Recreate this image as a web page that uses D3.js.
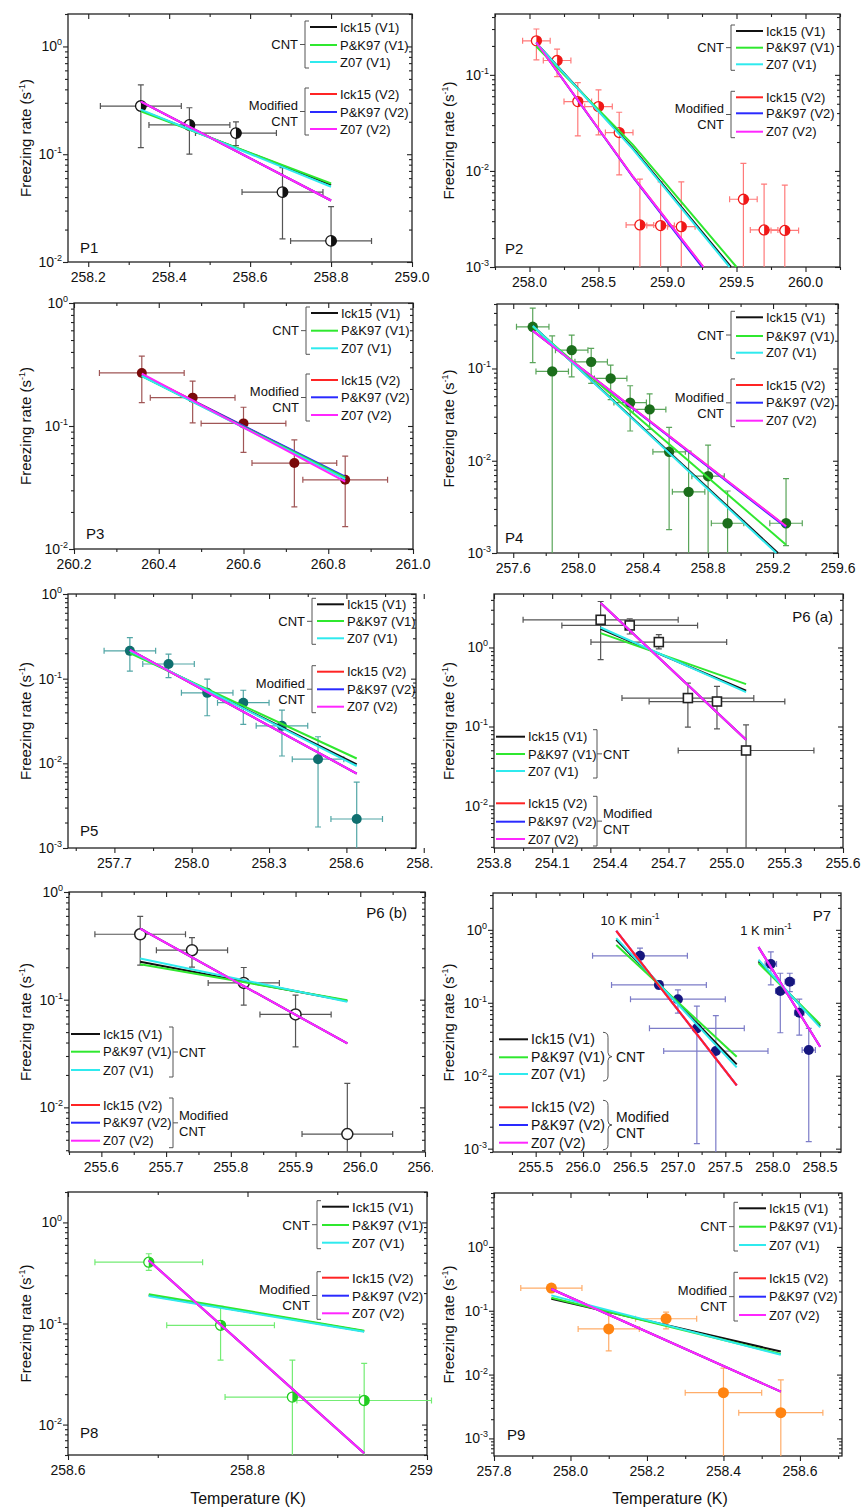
<!DOCTYPE html>
<html>
<head>
<meta charset="utf-8">
<script src="https://d3js.org/d3.v7.min.js"></script>
<style>
  body { margin: 0; background: #fff; }
  svg text { font-family: "Liberation Sans", Arial, sans-serif; fill: #111; }
</style>
</head>
<body>
<svg id="fig" width="866" height="1511"></svg>
<script>
// ---- data: t = temperature (K), k = freezing rate (s-1)
// dt = temperature error, lo/hi = rate error bar ends (lo null = runs off the axis)

var p1XTicks = [258.2, 258.4, 258.6, 258.8, 259.0];
var p1YTicks = [0.01, 0.1, 1];
var p1Points = [
  {t: 258.33, k: 0.28, dt: 0.1, lo: 0.115, hi: 0.44},
  {t: 258.45, k: 0.187, dt: 0.1, lo: 0.1, hi: 0.27},
  {t: 258.565, k: 0.157, dt: 0.1, lo: 0.12, hi: 0.2},
  {t: 258.68, k: 0.0445, dt: 0.1, lo: 0.0164, hi: 0.075},
  {t: 258.80, k: 0.0157, dt: 0.1, lo: null, hi: 0.0327}
];
var p1Fits = {
  ick1: [[258.33, 0.255], [258.80, 0.052]],
  pk1: [[258.33, 0.25], [258.80, 0.0535]],
  z1: [[258.33, 0.259], [258.80, 0.0499]],
  ick2: [[258.33, 0.308], [258.80, 0.0372]],
  pk2: [[258.33, 0.308], [258.80, 0.0372]],
  z2: [[258.33, 0.308], [258.80, 0.0372]]
};

var p2XTicks = [258.0, 258.5, 259.0, 259.5, 260.0];
var p2YTicks = [0.001, 0.01, 0.1];
var p2Points = [
  {t: 258.05, k: 0.226, dt: 0.1, lo: 0.143, hi: 0.30},
  {t: 258.20, k: 0.141, dt: 0.1, lo: 0.096, hi: 0.185},
  {t: 258.35, k: 0.0527, dt: 0.1, lo: 0.0232, hi: 0.083},
  {t: 258.50, k: 0.0468, dt: 0.1, lo: 0.0237, hi: 0.0698},
  {t: 258.65, k: 0.0251, dt: 0.1, lo: 0.0091, hi: 0.0408},
  {t: 258.80, k: 0.00274, dt: 0.1, lo: null, hi: 0.0082},
  {t: 258.95, k: 0.0027, dt: 0.1, lo: null, hi: 0.0077},
  {t: 259.10, k: 0.00263, dt: 0.1, lo: null, hi: 0.0077},
  {t: 259.55, k: 0.00507, dt: 0.1, lo: null, hi: 0.012},
  {t: 259.70, k: 0.00243, dt: 0.1, lo: null, hi: 0.0073},
  {t: 259.85, k: 0.0024, dt: 0.1, lo: null, hi: 0.0071}
];
var p2Fits = {
  ick1: [[258.05, 0.214], [258.75, 0.0172], [259.46, 0.001]],
  pk1: [[258.05, 0.197], [258.75, 0.0187], [259.50, 0.001]],
  z1: [[258.05, 0.214], [258.75, 0.0168], [259.45, 0.001]],
  ick2: [[258.05, 0.217], [258.75, 0.0087], [259.26, 0.001]],
  pk2: [[258.05, 0.217], [258.75, 0.0086], [259.25, 0.001]],
  z2: [[258.05, 0.217], [258.75, 0.0087], [259.26, 0.001]]
};

var p3XTicks = [260.2, 260.4, 260.6, 260.8, 261.0];
var p3YTicks = [0.01, 0.1, 1];
var p3Points = [
  {t: 260.36, k: 0.27, dt: 0.1, lo: 0.155, hi: 0.37},
  {t: 260.48, k: 0.17, dt: 0.1, lo: 0.106, hi: 0.232},
  {t: 260.60, k: 0.105, dt: 0.1, lo: 0.061, hi: 0.142},
  {t: 260.72, k: 0.050, dt: 0.1, lo: 0.022, hi: 0.077},
  {t: 260.84, k: 0.0365, dt: 0.1, lo: 0.0152, hi: 0.057}
];
var p3Fits = {
  ick1: [[260.36, 0.257], [260.84, 0.0375]],
  pk1: [[260.36, 0.255], [260.84, 0.038]],
  z1: [[260.36, 0.255], [260.84, 0.037]],
  ick2: [[260.36, 0.262], [260.84, 0.038]],
  pk2: [[260.36, 0.259], [260.84, 0.0388]],
  z2: [[260.36, 0.267], [260.84, 0.0353]]
};

var p4XTicks = [257.6, 258.0, 258.4, 258.8, 259.2, 259.6];
var p4YTicks = [0.001, 0.01, 0.1];
var p4Points = [
  {t: 257.72, k: 0.283, dt: 0.1, lo: 0.116, hi: 0.45},
  {t: 257.84, k: 0.093, dt: 0.1, lo: null, hi: 0.226},
  {t: 257.96, k: 0.158, dt: 0.1, lo: 0.081, hi: 0.23},
  {t: 258.08, k: 0.118, dt: 0.1, lo: 0.069, hi: 0.165},
  {t: 258.20, k: 0.078, dt: 0.1, lo: 0.046, hi: 0.109},
  {t: 258.32, k: 0.0427, dt: 0.1, lo: 0.021, hi: 0.065},
  {t: 258.44, k: 0.036, dt: 0.1, lo: 0.0219, hi: 0.053},
  {t: 258.56, k: 0.0125, dt: 0.1, lo: 0.00179, hi: 0.023},
  {t: 258.68, k: 0.0046, dt: 0.1, lo: null, hi: 0.0127},
  {t: 258.80, k: 0.0068, dt: 0.1, lo: null, hi: 0.0148},
  {t: 258.92, k: 0.0021, dt: 0.1, lo: null, hi: 0.0047},
  {t: 259.28, k: 0.0021, dt: 0.1, lo: 0.0012, hi: 0.0064}
];
var p4Fits = {
  ick1: [[257.72, 0.29], [259.23, 0.001]],
  pk1: [[257.72, 0.283], [259.28, 0.00123]],
  z1: [[257.72, 0.29], [259.22, 0.001]],
  ick2: [[257.72, 0.256], [259.28, 0.00195]],
  pk2: [[257.72, 0.256], [259.28, 0.00190]],
  z2: [[257.72, 0.256], [259.28, 0.00195]]
};

var p5XTicks = [257.7, 258.0, 258.3, 258.6, 258.9];
var p5YTicks = [0.001, 0.01, 0.1, 1];
var p5Points = [
  {t: 257.76, k: 0.213, dt: 0.1, lo: 0.123, hi: 0.306},
  {t: 257.91, k: 0.149, dt: 0.1, lo: 0.103, hi: 0.195},
  {t: 258.06, k: 0.068, dt: 0.1, lo: 0.0365, hi: 0.099},
  {t: 258.20, k: 0.052, dt: 0.1, lo: 0.0288, hi: 0.073},
  {t: 258.35, k: 0.0277, dt: 0.1, lo: 0.0122, hi: 0.0426},
  {t: 258.49, k: 0.0112, dt: 0.1, lo: 0.00177, hi: 0.0206},
  {t: 258.64, k: 0.0022, dt: 0.1, lo: null, hi: 0.006}
];
var p5Fits = {
  ick1: [[257.76, 0.209], [258.64, 0.0097]],
  pk1: [[257.76, 0.2], [258.64, 0.0114]],
  z1: [[257.76, 0.212], [258.64, 0.0093]],
  ick2: [[257.76, 0.219], [258.64, 0.00757]],
  pk2: [[257.76, 0.219], [258.64, 0.00757]],
  z2: [[257.76, 0.219], [258.64, 0.00757]]
};

var p6aXTicks = [253.8, 254.1, 254.4, 254.7, 255.0, 255.3, 255.6];
var p6aYTicks = [0.01, 0.1, 1];
var p6aPoints = [
  {t: 254.35, k: 2.24, dt: 0.4, lo: 0.70, hi: 3.82},
  {t: 254.50, k: 1.90, dt: 0.35, lo: 1.48, hi: 2.31},
  {t: 254.65, k: 1.17, dt: 0.35, lo: 0.96, hi: 1.45},
  {t: 254.80, k: 0.229, dt: 0.34, lo: 0.098, hi: 0.354},
  {t: 254.95, k: 0.207, dt: 0.35, lo: 0.0935, hi: 0.321},
  {t: 255.10, k: 0.0497, dt: 0.35, lo: null, hi: 0.105}
];
var p6aFits = {
  ick1: [[254.35, 1.72], [255.10, 0.283]],
  pk1: [[254.35, 1.52], [255.10, 0.344]],
  z1: [[254.35, 1.79], [255.10, 0.272]],
  ick2: [[254.35, 3.65], [255.10, 0.068]],
  pk2: [[254.35, 3.65], [255.10, 0.068]],
  z2: [[254.35, 3.65], [255.10, 0.068]]
};

var p6bXTicks = [255.6, 255.7, 255.8, 255.9, 256.0, 256.1];
var p6bYTicks = [0.01, 0.1, 1];
var p6bPoints = [
  {t: 255.66, k: 0.405, dt: 0.07, lo: 0.209, hi: 0.595},
  {t: 255.74, k: 0.288, dt: 0.055, lo: 0.201, hi: 0.377},
  {t: 255.82, k: 0.143, dt: 0.055, lo: 0.089, hi: 0.199},
  {t: 255.90, k: 0.073, dt: 0.055, lo: 0.0365, hi: 0.110},
  {t: 255.98, k: 0.00565, dt: 0.07, lo: null, hi: 0.0167}
];
var p6bFits = {
  ick1: [[255.66, 0.225], [255.98, 0.097]],
  pk1: [[255.66, 0.213], [255.98, 0.099]],
  z1: [[255.66, 0.241], [255.98, 0.0955]],
  ick2: [[255.66, 0.457], [255.98, 0.0392]],
  pk2: [[255.66, 0.457], [255.98, 0.0392]],
  z2: [[255.66, 0.457], [255.98, 0.0392]]
};

var p7XTicks = [255.5, 256.0, 256.5, 257.0, 257.5, 258.0, 258.5];
var p7YTicks = [0.001, 0.01, 0.1, 1];
var p7Points = [
  // 10 K min-1
  {t: 256.6, k: 0.44, dt: 0.5, lo: 0.33, hi: 0.56},
  {t: 256.8, k: 0.176, dt: 0.5, lo: 0.155, hi: 0.2},
  {t: 257.0, k: 0.112, dt: 0.5, lo: 0.072, hi: 0.15},
  {t: 257.2, k: 0.0446, dt: 0.5, lo: 0.00117, hi: 0.09},
  {t: 257.4, k: 0.0218, dt: 0.55, lo: null, hi: 0.0665},
  // 1 K min-1
  {t: 257.98, k: 0.341, dt: 0.06, lo: 0.176, hi: 0.50},
  {t: 258.08, k: 0.145, dt: 0.05, lo: 0.0388, hi: 0.254},
  {t: 258.18, k: 0.195, dt: 0.05, lo: 0.142, hi: 0.254},
  {t: 258.28, k: 0.073, dt: 0.05, lo: 0.036, hi: 0.112},
  {t: 258.38, k: 0.0225, dt: 0.07, lo: 0.00125, hi: 0.0446}
];
var p7Fits10 = {
  ick1: [[256.35, 0.73], [257.62, 0.0143]],
  pk1: [[256.35, 0.62], [257.62, 0.0182]],
  z1: [[256.35, 0.77], [257.62, 0.013]],
  ick2: [[256.35, 0.97], [257.62, 0.0074]],
  pk2: [[256.35, 0.97], [257.62, 0.0074]],
  z2: [[256.35, 0.97], [257.62, 0.0074]]
};
var p7Fits1 = {
  ick1: [[257.85, 0.37], [258.50, 0.048]],
  pk1: [[257.85, 0.35], [258.50, 0.051]],
  z1: [[257.85, 0.39], [258.50, 0.046]],
  ick2: [[257.85, 0.58], [258.50, 0.025]],
  pk2: [[257.85, 0.58], [258.50, 0.025]],
  z2: [[257.85, 0.58], [258.50, 0.025]]
};

var p8XTicks = [258.6, 258.8, 259.0];
var p8YTicks = [0.01, 0.1, 1];
var p8Points = [
  {t: 258.69, k: 0.404, dt: 0.06, lo: 0.335, hi: 0.49},
  {t: 258.77, k: 0.096, dt: 0.06, lo: 0.0435, hi: 0.148},
  {t: 258.85, k: 0.0187, dt: 0.075, lo: null, hi: 0.0435},
  {t: 258.93, k: 0.0173, dt: 0.075, lo: null, hi: 0.0404}
];
var p8Fits = {
  ick1: [[258.69, 0.19], [258.93, 0.084]],
  pk1: [[258.69, 0.195], [258.93, 0.085]],
  z1: [[258.69, 0.187], [258.93, 0.083]],
  ick2: [[258.69, 0.42], [258.93, 0.0052]],
  pk2: [[258.69, 0.42], [258.93, 0.0052]],
  z2: [[258.69, 0.42], [258.93, 0.0052]]
};

var p9XTicks = [257.8, 258.0, 258.2, 258.4, 258.6];
var p9YTicks = [0.001, 0.01, 0.1, 1];
var p9Points = [
  {t: 257.95, k: 0.227, dt: 0.08, lo: 0.2, hi: 0.26},
  {t: 258.10, k: 0.052, dt: 0.08, lo: 0.0235, hi: 0.092},
  {t: 258.25, k: 0.075, dt: 0.08, lo: 0.052, hi: 0.095},
  {t: 258.40, k: 0.0052, dt: 0.1, lo: null, hi: 0.0126},
  {t: 258.55, k: 0.00253, dt: 0.11, lo: null, hi: 0.00826}
];
var p9Fits = {
  ick1: [[257.95, 0.154], [258.55, 0.023]],
  pk1: [[257.95, 0.16], [258.55, 0.021]],
  z1: [[257.95, 0.174], [258.55, 0.0204]],
  ick2: [[257.95, 0.219], [258.55, 0.0054]],
  pk2: [[257.95, 0.219], [258.55, 0.0054]],
  z2: [[257.95, 0.219], [258.55, 0.0054]]
};

var fitKeys = ['ick1', 'pk1', 'z1', 'ick2', 'pk2', 'z2'];
var fitNames = ['Ick15 (V1)', 'P&K97 (V1)', 'Z07 (V1)', 'Ick15 (V2)', 'P&K97 (V2)', 'Z07 (V2)'];
var fitColors = {ick1: '#111', pk1: '#2fe82f', z1: '#2feaee', ick2: '#ff2424', pk2: '#2a2aff', z2: '#ff26ff'};
var drawOrder = ['ick1', 'ick2', 'pk2', 'pk1', 'z1', 'z2'];

// ---- panel layout
var panels = [
  {frame: [68, 14, 412, 262], xDomain: [258.15, 259.0], yDomain: [0.01, 2], xTicks: p1XTicks, yTicks: p1YTicks,
   points: p1Points, fits: [{f: p1Fits}], marker: 'half', color: '#111', err: '#555', r: 5.3, left: true,
   label: {text: 'P1', x: 80, y: 248}, legend: {type: 'A', x: 340, rows: [27, 45, 62, 94, 112, 129]}},
  {frame: [495, 14, 840, 267], xDomain: [257.75, 260.25], yDomain: [0.001, 0.43], xTicks: p2XTicks, yTicks: p2YTicks,
   points: p2Points, fits: [{f: p2Fits}], marker: 'half', color: '#f01818', err: '#ff7a7a', r: 5,
   label: {text: 'P2', x: 505, y: 249}, legend: {type: 'A', x: 766, rows: [31, 47.7, 64.3, 97.3, 113.3, 131.7]}},
  {frame: [74, 303, 413, 549], xDomain: [260.2, 261.0], yDomain: [0.01, 1], xTicks: p3XTicks, yTicks: p3YTicks,
   points: p3Points, fits: [{f: p3Fits}], marker: 'filled', color: '#7a0a0a', err: '#a05656', r: 5, left: true,
   label: {text: 'P3', x: 86, y: 534}, legend: {type: 'A', x: 341, rows: [313, 330.7, 348.3, 380, 397.3, 415]}},
  {frame: [497, 304, 838, 553], xDomain: [257.5, 259.6], yDomain: [0.001, 0.5], xTicks: p4XTicks, yTicks: p4YTicks,
   points: p4Points, fits: [{f: p4Fits}], marker: 'filled', color: '#1b6e1b', err: '#5aa55a', r: 5.2,
   label: {text: 'P4', x: 505, y: 538}, legend: {type: 'A', x: 766, rows: [317.3, 336, 352.7, 385, 402.7, 420.7]}},
  {frame: [68, 594, 416, 848], xDomain: [257.52, 258.87], yDomain: [0.001, 1], xTicks: p5XTicks, yTicks: p5YTicks,
   points: p5Points, fits: [{f: p5Fits}], marker: 'filled', color: '#0f6f6f', err: '#52a6a6', r: 5, left: true,
   label: {text: 'P5', x: 80, y: 831}, legend: {type: 'A', x: 347, rows: [604.3, 621, 638.3, 671.7, 689.3, 706.7]}},
  {frame: [494, 594, 843, 848], xDomain: [253.8, 255.6], yDomain: [0.0029, 4.75], xTicks: p6aXTicks, yTicks: p6aYTicks,
   points: p6aPoints, fits: [{f: p6aFits}], marker: 'square', color: '#222', err: '#555', r: 4.5,
   label: {text: 'P6 (a)', x: 833, y: 617, anchor: 'end'},
   legend: {type: 'B', x: 528, bx: 597, rows: [736.7, 754, 771, 803.3, 821.7, 839]}},
  {frame: [69, 892, 425, 1152], xDomain: [255.55, 256.1], yDomain: [0.00385, 1], xTicks: p6bXTicks, yTicks: p6bYTicks,
   points: p6bPoints, fits: [{f: p6bFits}], marker: 'open', color: '#222', err: '#555', r: 5.5, left: true,
   label: {text: 'P6 (b)', x: 407, y: 913, anchor: 'end'},
   legend: {type: 'B', x: 103, bx: 173, rows: [1034, 1051.7, 1070, 1105, 1122.7, 1140.7]}},
  {frame: [493, 893, 841, 1152], xDomain: [255.05, 258.72], yDomain: [0.0009, 3.2], xTicks: p7XTicks, yTicks: p7YTicks,
   points: p7Points, fits: [{f: p7Fits10, order: ['ick1', 'pk2', 'z2', 'pk1', 'z1', 'ick2']}, {f: p7Fits1}],
   marker: 'filled', color: '#16167e', err: '#7c7cc8', r: 5,
   label: {text: 'P7', x: 831, y: 916, anchor: 'end'},
   legend: {type: 'B', x: 531, bx: 608, curly: true, size: 14, rows: [1039.3, 1057.3, 1074, 1107.3, 1125, 1142.7]}},
  {frame: [68, 1192, 427, 1455], xDomain: [258.6, 259.0], yDomain: [0.005, 2], xTicks: p8XTicks, yTicks: p8YTicks,
   points: p8Points, fits: [{f: p8Fits}], marker: 'half', color: '#22cc22', err: '#74ec74', r: 5, left: true,
   label: {text: 'P8', x: 80, y: 1433}, legend: {type: 'A', x: 352, size: 13.5, rows: [1206.7, 1225, 1242.7, 1277.7, 1295.7, 1313.3]}},
  {frame: [494, 1193, 842, 1456], xDomain: [257.8, 258.71], yDomain: [0.00053, 7], xTicks: p9XTicks, yTicks: p9YTicks,
   points: p9Points, fits: [{f: p9Fits}], marker: 'filled', color: '#ff8412', err: '#ffad6a', r: 5.5,
   label: {text: 'P9', x: 507, y: 1435}, legend: {type: 'A', x: 769, rows: [1208.3, 1226.7, 1245, 1278.3, 1296.7, 1315]}}
];

var svg = d3.select('#fig');
svg.append('defs').append('clipPath').attr('id', 'leftCol')
  .append('rect').attr('x', 0).attr('y', 0).attr('width', 433).attr('height', 1511);

function minorsX(ticks, dom) {
  var step = (ticks[1] - ticks[0]) / 2, out = [];
  for (var v = ticks[0] - step; v <= dom[1] + 1e-9; v += 2 * step) {
    if (v >= dom[0] - 1e-9) out.push(v);
  }
  return out;
}
function minorsY(dom) {
  var out = [];
  for (var e = Math.floor(Math.log10(dom[0])); e <= Math.ceil(Math.log10(dom[1])); e++) {
    for (var m = 2; m <= 9; m++) {
      var v = m * Math.pow(10, e);
      if (v >= dom[0] && v <= dom[1]) out.push(v);
    }
  }
  return out;
}

function drawPanel(p) {
  var l = p.frame[0], t = p.frame[1], r = p.frame[2], b = p.frame[3];
  var x = d3.scaleLinear().domain(p.xDomain).range([l, r]);
  var y = d3.scaleLog().domain(p.yDomain).range([b, t]);
  var g = svg.append('g');
  if (p.left) g.attr('clip-path', 'url(#leftCol)');

  // axes: major + minor ticks on four sides
  var xMin = minorsX(p.xTicks, p.xDomain), yMin = minorsY(p.yDomain);
  function axis(a, tr, vals, size) {
    var ag = g.append('g').attr('transform', tr)
      .call(a.tickValues(vals).tickSize(size).tickSizeOuter(0).tickFormat(''));
    ag.select('.domain').remove();
    ag.selectAll('line').attr('stroke', '#222').attr('stroke-width', 1.1);
  }
  axis(d3.axisBottom(x), 'translate(0,' + b + ')', p.xTicks, 5);
  axis(d3.axisBottom(x), 'translate(0,' + b + ')', xMin, 3);
  axis(d3.axisTop(x), 'translate(0,' + t + ')', p.xTicks, -5);
  axis(d3.axisTop(x), 'translate(0,' + t + ')', xMin, -3);
  axis(d3.axisLeft(y), 'translate(' + l + ',0)', p.yTicks, 5);
  axis(d3.axisLeft(y), 'translate(' + l + ',0)', yMin, 3);
  axis(d3.axisRight(y), 'translate(' + r + ',0)', p.yTicks, -5);
  axis(d3.axisRight(y), 'translate(' + r + ',0)', yMin, -3);

  g.append('rect').attr('x', l).attr('y', t).attr('width', r - l).attr('height', b - t)
    .attr('fill', 'none').attr('stroke', '#222').attr('stroke-width', 1.3);

  p.xTicks.forEach(function (v) {
    g.append('text').attr('x', x(v)).attr('y', b + 20).attr('text-anchor', 'middle')
      .attr('font-size', 14).text(d3.format('.1f')(v));
  });
  p.yTicks.forEach(function (v) {
    var tx = g.append('text').attr('x', l - 6).attr('y', y(v) + 5).attr('text-anchor', 'end').attr('font-size', 14);
    tx.append('tspan').text('10');
    tx.append('tspan').attr('font-size', 9).attr('dy', -6).text(Math.round(Math.log10(v)));
  });

  // y title
  var tx0 = p.left ? 26 : 449, ty0 = (t + b) / 2;
  var ttl = g.append('text').attr('transform', 'translate(' + tx0 + ',' + ty0 + ') rotate(-90)')
    .attr('text-anchor', 'middle').attr('dy', '0.35em').attr('font-size', 15);
  ttl.append('tspan').text('Freezing rate (s');
  ttl.append('tspan').attr('font-size', 9).attr('dy', -6).text('-1');
  ttl.append('tspan').attr('dy', 6).text(')');

  // error bars
  var eg = g.append('g').attr('stroke', p.err).attr('stroke-width', 1.2).attr('fill', 'none');
  p.points.forEach(function (d) {
    var cx = x(d.t), cy = y(d.k);
    var x0 = x(d.t - d.dt), x1 = x(d.t + d.dt);
    var yHi = y(d.hi), yLo = d.lo === null ? b : Math.min(b, y(d.lo));
    eg.append('path').attr('d',
      'M' + x0 + ',' + cy + 'H' + x1 +
      'M' + x0 + ',' + (cy - 3) + 'V' + (cy + 3) +
      'M' + x1 + ',' + (cy - 3) + 'V' + (cy + 3) +
      'M' + cx + ',' + yHi + 'V' + yLo +
      'M' + (cx - 3) + ',' + yHi + 'H' + (cx + 3) +
      (d.lo === null || y(d.lo) > b ? '' : 'M' + (cx - 3) + ',' + yLo + 'H' + (cx + 3)));
  });

  // markers
  var mg = g.append('g');
  p.points.forEach(function (d) {
    var cx = x(d.t), cy = y(d.k), rr = p.r;
    if (p.marker === 'filled') {
      mg.append('circle').attr('cx', cx).attr('cy', cy).attr('r', rr).attr('fill', p.color);
    } else if (p.marker === 'open') {
      mg.append('circle').attr('cx', cx).attr('cy', cy).attr('r', rr).attr('fill', '#fff')
        .attr('stroke', p.color).attr('stroke-width', 1.5);
    } else if (p.marker === 'square') {
      mg.append('rect').attr('x', cx - rr).attr('y', cy - rr).attr('width', 2 * rr).attr('height', 2 * rr)
        .attr('fill', '#fff').attr('stroke', p.color).attr('stroke-width', 1.6);
    } else {
      mg.append('circle').attr('cx', cx).attr('cy', cy).attr('r', rr).attr('fill', '#fff')
        .attr('stroke', p.color).attr('stroke-width', 1.3);
      mg.append('path').attr('d', 'M' + cx + ',' + (cy - rr) + 'A' + rr + ',' + rr + ' 0 0 1 ' + cx + ',' + (cy + rr) + 'Z')
        .attr('fill', p.color);
    }
  });

  // model lines
  var line = d3.line().x(function (d) { return x(d[0]); }).y(function (d) { return y(d[1]); });
  p.fits.forEach(function (fs) {
    (fs.order || drawOrder).forEach(function (k) {
      g.append('path').datum(fs.f[k]).attr('d', line).attr('fill', 'none')
        .attr('stroke', fitColors[k]).attr('stroke-width', 2);
    });
  });

  // panel label
  g.append('text').attr('x', p.label.x).attr('y', p.label.y).attr('dy', '0.35em')
    .attr('text-anchor', p.label.anchor || 'start').attr('font-size', 15).text(p.label.text);

  if (p.legend.type === 'A') legendA(g, p.legend); else legendB(g, p.legend);
}

function legendA(g, L) {
  var fs = L.size || 13;
  fitKeys.forEach(function (k, i) {
    var yy = L.rows[i];
    g.append('line').attr('x1', L.x - 30).attr('x2', L.x - 3).attr('y1', yy).attr('y2', yy)
      .attr('stroke', fitColors[k]).attr('stroke-width', 2);
    g.append('text').attr('x', L.x).attr('y', yy).attr('dy', '0.36em').attr('font-size', fs).text(fitNames[i]);
  });
  var bx = L.x - 35;
  [[0, 2, ['CNT'], [0]], [3, 5, ['Modified', 'CNT'], [-6, 10]]].forEach(function (grp) {
    var y0 = L.rows[grp[0]] - 6, y1 = L.rows[grp[1]] + 6, ym = (L.rows[grp[0]] + L.rows[grp[1]]) / 2;
    g.append('path').attr('fill', 'none').attr('stroke', '#555').attr('stroke-width', 1)
      .attr('d', 'M' + (bx + 4) + ',' + y0 + 'H' + bx + 'V' + y1 + 'H' + (bx + 4) + 'M' + bx + ',' + ym + 'H' + (bx - 5));
    grp[2].forEach(function (s, j) {
      g.append('text').attr('x', bx - 7).attr('y', ym + grp[3][j]).attr('dy', '0.36em')
        .attr('text-anchor', 'end').attr('font-size', fs).text(s);
    });
  });
}

function legendB(g, L) {
  var fs = L.size || 13;
  fitKeys.forEach(function (k, i) {
    var yy = L.rows[i];
    g.append('line').attr('x1', L.x - 32).attr('x2', L.x - 3).attr('y1', yy).attr('y2', yy)
      .attr('stroke', fitColors[k]).attr('stroke-width', 2);
    g.append('text').attr('x', L.x).attr('y', yy).attr('dy', '0.36em').attr('font-size', fs).text(fitNames[i]);
  });
  var bx = L.bx;
  [[0, 2, ['CNT'], [0]], [3, 5, ['Modified', 'CNT'], [-8, 8]]].forEach(function (grp) {
    var y0 = L.rows[grp[0]] - 7, y1 = L.rows[grp[1]] + 7, ym = (L.rows[grp[0]] + L.rows[grp[1]]) / 2;
    var d;
    if (L.curly) {
      d = 'M' + (bx - 5) + ',' + y0 + 'Q' + bx + ',' + y0 + ' ' + bx + ',' + (y0 + 5) + 'V' + (ym - 4) +
        'Q' + bx + ',' + ym + ' ' + (bx + 4) + ',' + ym + 'Q' + bx + ',' + ym + ' ' + bx + ',' + (ym + 4) +
        'V' + (y1 - 5) + 'Q' + bx + ',' + y1 + ' ' + (bx - 5) + ',' + y1;
    } else {
      d = 'M' + (bx - 4) + ',' + y0 + 'H' + bx + 'V' + y1 + 'H' + (bx - 4) + 'M' + bx + ',' + ym + 'H' + (bx + 5);
    }
    g.append('path').attr('fill', 'none').attr('stroke', '#555').attr('stroke-width', 1).attr('d', d);
    grp[2].forEach(function (s, j) {
      g.append('text').attr('x', bx + (L.curly ? 8 : 6)).attr('y', ym + grp[3][j]).attr('dy', '0.36em')
        .attr('font-size', fs).text(s);
    });
  });
}

panels.forEach(drawPanel);

// P7 heating-rate annotations
function rateNote(tx, ty, s) {
  var n = svg.append('text').attr('x', tx).attr('y', ty).attr('dy', '0.36em')
    .attr('text-anchor', 'middle').attr('font-size', 13);
  n.append('tspan').text(s + ' K min');
  n.append('tspan').attr('font-size', 8.5).attr('dy', -6).text('-1');
}
rateNote(630, 920, '10');
rateNote(766, 930, '1');

// x axis titles
svg.append('text').attr('x', 248).attr('y', 1498).attr('dy', '0.36em').attr('text-anchor', 'middle')
  .attr('font-size', 16).text('Temperature (K)');
svg.append('text').attr('x', 670).attr('y', 1498).attr('dy', '0.36em').attr('text-anchor', 'middle')
  .attr('font-size', 16).text('Temperature (K)');
</script>
</body>
</html>
